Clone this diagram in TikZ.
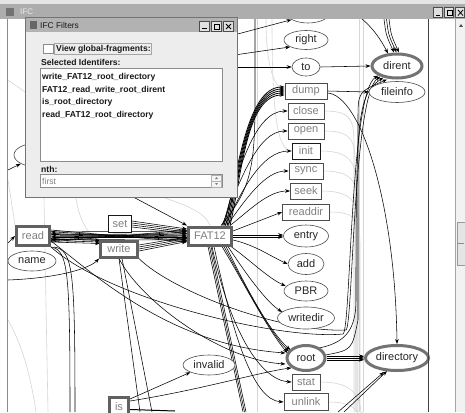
\documentclass[tikz,border=0pt]{standalone}
\usepackage{fontspec}
\setmainfont{Liberation Sans}
\usetikzlibrary{calc,shapes.geometric,arrows.meta}
\pgfdeclarelayer{edges}
\pgfdeclarelayer{front}
\pgfsetlayers{edges,main,front}
\tikzset{
	lbl/.style={font=\fontsize{11}{13}\selectfont},
	oval/.style={lbl, ellipse, draw=black!70, line width=0.6pt, fill=white, inner sep=0pt, text=black!85},
	bigoval/.style={oval, draw=black!55, line width=3pt},
	fnbox/.style={lbl, rectangle, draw=black!70, line width=0.8pt, fill=white, inner sep=0pt, text=black!50},
	bigbox/.style={fnbox, draw=black!62, line width=3pt},
	arr/.style={draw=black, line width=0.55pt, -{Stealth[length=5pt,width=3.6pt]}},
	plain/.style={draw=black, line width=0.55pt},
	faint/.style={draw=black!16, line width=0.6pt},
	dlg/.style={font=\fontsize{8.6}{10}\selectfont\bfseries, text=black!90, inner sep=0pt, anchor=west},
	winbtn/.style={draw=black!70, fill=black!12, line width=0.5pt},
}

\begin{document}
\begin{tikzpicture}[x=1pt,y=-1pt]
			%%%%% START %%%%%
			\useasboundingbox (0,0) rectangle (465,412);
			
			% nodes of the graph
			\node[oval, minimum width=46pt, minimum height=24pt] (topell) at (308,11) {};
			\node[oval, minimum width=44pt, minimum height=19pt] (right) at (306,40) {right};
			\node[oval, minimum width=28pt, minimum height=18pt] (to) at (306,67) {to};
			\node[bigoval, minimum width=50pt, minimum height=24pt] (dirent) at (397,66) {dirent};
			\node[oval, minimum width=56pt, minimum height=21pt] (fileinfo) at (397,92) {fileinfo};
			\node[fnbox, minimum width=42pt, minimum height=16pt] (dump) at (306,91) {dump};
			\node[fnbox, minimum width=36pt, minimum height=16pt] (close) at (306,111) {close};
			\node[fnbox, minimum width=36pt, minimum height=16pt] (open) at (306,131) {open};
			\node[fnbox, draw=black!90, minimum width=28pt, minimum height=16pt] (init) at (306,151) {init};
			\node[fnbox, minimum width=34pt, minimum height=16pt] (sync) at (306,171) {sync};
			\node[fnbox, minimum width=31pt, minimum height=16pt] (seek) at (306,191) {seek};
			\node[fnbox, minimum width=47pt, minimum height=16pt] (readdir) at (306,212) {readdir};
			\node[oval, minimum width=45pt, minimum height=22pt] (entry) at (306,236) {entry};
			\node[oval, minimum width=36pt, minimum height=21pt] (add) at (306,264) {add};
			\node[oval, minimum width=44pt, minimum height=20pt] (PBR) at (306,291) {PBR};
			\node[oval, minimum width=57pt, minimum height=22pt] (writedir) at (306,318) {writedir};
			\node[bigoval, minimum width=38pt, minimum height=25pt] (root) at (306,358) {root};
			\node[bigoval, minimum width=63pt, minimum height=25pt] (directory) at (397,358) {directory};
			\node[fnbox, minimum width=28pt, minimum height=16pt] (stat) at (306,382) {stat};
			\node[fnbox, minimum width=44pt, minimum height=17pt] (unlink) at (306,402) {unlink};
			
			\node[oval, minimum width=48pt, minimum height=24pt] (leftell) at (38,155) {};
			\node[bigbox, minimum width=33pt, minimum height=19pt] (read) at (33,236) {read};
			\node[oval, minimum width=48pt, minimum height=20pt] (name) at (32,261) {name};
			\node[fnbox, draw=black!90, minimum width=23pt, minimum height=17pt] (set) at (120,224) {set};
			\node[bigbox, minimum width=37pt, minimum height=16pt] (write) at (119,249) {write};
			\node[bigbox, minimum width=43pt, minimum height=18pt] (FAT12) at (210,236) {FAT12};
			\node[oval, minimum width=52pt, minimum height=20pt] (invalid) at (209,365) {invalid};
			\node[bigbox, minimum width=19pt, minimum height=18pt] (is) at (119,406.5) {is};
			
			\begin{pgfonlayer}{edges}
			\fill[white] (0,0) rectangle (465,412);
			\begin{scope}
			\clip (8,19) rectangle (428,412);
			
			% greyed out connectors
			\foreach \b/\y/\d in {close/111/0, open/131/1.2, init/151/2.4, sync/171/3.6, seek/191/4.8, readdir/212/6, stat/382/7.2, unlink/402/8.4}
				\draw[faint] (\b.east) .. controls +(28,0) and +(0,-25) .. (354+\d,\y+35) -- (354+\d,412);
			\draw[faint] (359,19) -- (359,412);
			\draw[faint] (363,19) -- (363,412);
			\draw[faint] (257,19) -- (257,412);
			\draw[faint] (266,19) .. controls (266,60) and (272,86) .. (dump.west);
			\draw[faint] (272,19) .. controls (272,120) and (278,150) .. (init.west);
			\draw[faint] (44,198) -- (48,412);
			\draw[faint] (76,198) .. controls (80,225) and (92,238) .. (write.north west);
			\draw[faint] (165,198) .. controls (185,205) and (205,212) .. (FAT12.north);
			\draw[faint] (8,320) .. controls (25,350) and (32,385) .. (36,412);
			\draw[faint] (8,180) -- (read.north west);
			\draw[faint] (8,80) -- (25,92);
			
			% read, set, write and FAT12
			\foreach \k in {0,...,7}
				\draw[arr] ($(read.east)+(0,-6+\k*1.7)$) -- ($(FAT12.west)+(0,6-\k*1.7)$);
			\foreach \k in {0,...,3}
				\draw[arr] ($(FAT12.west)+(0,-5+\k*3)$) -- ($(read.east)+(0,-4+\k*2.5)$);
			\foreach \k in {0,...,3}
				\draw[arr] ($(set.east)+(0,-3+\k*2)$) -- ($(FAT12.west)+(0,-7+\k*1.5)$);
			\foreach \k in {0,...,3}
				\draw[arr] ($(write.east)+(0,-4+\k*2)$) -- ($(FAT12.west)+(0,1+\k*1.5)$);
			\foreach \k in {0,1,2}
				\draw[arr] ($(read.east)+(0,3+\k*1.5)$) -- ($(write.north west)+(1,1+\k*1.5)$);
			\draw[arr] (120,190) -- (FAT12.north west);
			
			% FAT12 upwards
			\foreach \k in {0,...,4}
				\draw[arr, line width=0.8pt] ($(FAT12.north east)+(-9+\k*1.5,0)$) .. controls (238+\k,175) and (246,91-4+\k*2) .. ($(dump.west)+(0,-4+\k*2)$);
			\draw[arr] ($(FAT12.north east)+(-10,0)$) .. controls (238,170) and (255,111) .. (close.west);
			\draw[arr] ($(FAT12.north east)+(-11,0)$) .. controls (240,180) and (258,131) .. (open.west);
			\draw[arr] ($(FAT12.north east)+(-8,0)$) .. controls (242,190) and (262,151) .. (init.west);
			\draw[arr] ($(FAT12.north east)+(-6,0)$) .. controls (245,200) and (265,171) .. (sync.west);
			\draw[arr] ($(FAT12.north east)+(-3,0)$) .. controls (250,210) and (268,191) .. (seek.west);
			\draw[plain] ($(FAT12.north east)+(-12,0)$) .. controls (250,190) and (255,170) .. (255,100) -- (255,19);
			
			% FAT12 to the right and down
			\draw[arr] ($(FAT12.east)+(0,-5)$) -- (readdir.west);
			\draw[arr] ($(FAT12.east)+(0,-1)$) -- ($(entry.west)+(0,-1)$);
			\draw[arr] ($(FAT12.east)+(0,1)$) -- ($(entry.west)+(0,1)$);
			\draw[arr] ($(FAT12.east)+(0,4)$) .. controls (255,245) and (270,256) .. (add.west);
			\draw[arr] ($(FAT12.south east)+(-2,0)$) .. controls (250,260) and (268,278) .. ($(PBR.west)+(2,-5)$);
			\draw[arr] ($(FAT12.south east)+(-5,0)$) .. controls (250,280) and (268,303) .. ($(writedir.west)+(5,-6)$);
			\foreach \k in {0,1,2}
				\draw[arr] ($(FAT12.south east)+(-7-\k*2,0)$) .. controls (245,285) and (268,330) .. ($(root.north west)+(-1-\k*1.5,2+\k*1.5)$);
			\draw[arr] ($(FAT12.south)+(2,0)$) .. controls (230,330) and (260,380) .. (stat.west);
			\draw[arr] ($(FAT12.south)+(4,0)$) .. controls (235,345) and (255,400) .. (unlink.west);
			\foreach \k in {0,1,2}
				\draw[plain] ($(FAT12.south)+(-2+\k*1.5,0)$) -- (243+\k*1.5,412);
			
			% top of the canvas
			\draw[arr] (200,44) -- (topell.south west);
			\draw[arr] (200,60) -- (right.south west);
			\draw[arr] (200,67) -- (to.west);
			\draw[arr] (to.east) -- (dirent.west);
			\draw[arr] (362,19) .. controls (375,30) and (382,42) .. ($(dirent.north)+(-9,1)$);
			\foreach \k in {0,1,2}
				\draw[arr] (384+\k*2.5,19) .. controls (386+\k*2.5,35) .. ($(dirent.north)+(-3+\k*2.5,0)$);
			\draw[arr] (dump.east) -- (fileinfo.west);
			\draw[arr] ($(dump.east)+(0,2)$) .. controls (360,95) and (395,200) .. (directory.north);
			
			% into dirent from below
			\draw[arr] (read.south east) .. controls (110,300) and (280,340) .. (343,334) .. controls (351,330) and (350,92) .. (dirent.south west);
			\draw[arr] (write.south east) .. controls (170,290) and (280,333) .. (346,330) .. controls (353,326) and (353,95) .. ($(dirent.south west)+(2,1)$);
			\draw[arr] ($(root.north east)+(-2,0)$) .. controls (345,343) and (356,330) .. (356,300) .. controls (356,120) and (357,95) .. ($(dirent.south west)+(5,2)$);
			\draw[arr] ($(root.east)+(-1,-3)$) .. controls (352,350) .. (358,320) -- (358,120) .. controls (358,92) .. ($(dirent.south)+(-10,0)$);
			
			% root and directory
			\foreach \k in {-1.8,0,1.8}
				\draw[arr] ($(root.east)+(0,\k)$) -- ($(directory.west)+(0,\k)$);
			\draw[arr] (338,412) -- ($(directory.south)+(-13,0)$);
			\draw[arr] (344,412) -- ($(directory.south)+(-10,-1)$);
			
			% read and write downwards
			\draw[arr] ($(read.east)+(0,5)$) .. controls (95,275) and (170,345) .. ($(root.west)+(0,-5)$);
			\draw[arr] (write.south) .. controls (140,300) and (220,360) .. ($(root.west)+(0,6)$);
			\draw[plain] (read.south east) .. controls (68,250) and (70,270) .. (70,412);
			\draw[plain] ($(read.south east)+(3,0)$) .. controls (73,250) and (75,270) .. (75,412);
			\draw[plain] (write.south) -- (140,412);
			\draw[plain] ($(write.south)+(3,0)$) -- (152,412);
			
			% is
			\draw[arr] ($(is.north east)+(0,3)$) -- (invalid.south west);
			\draw[arr] ($(is.north east)+(0,5)$) .. controls (200,390) and (260,372) .. (root.south west);
			\draw[plain, line width=1pt] ($(is.east)+(0,3)$) -- (175,411);
			
			% left border
			\draw[arr] (8,243) -- (read.west);
			\draw[arr] (8,170) -- (leftell.south west);
			\draw[arr] (8,280) .. controls (60,278) and (90,268) .. (write.south west);
			\end{scope}
			\end{pgfonlayer}
			
			\begin{pgfonlayer}{front}
			% window frame
			\fill[black!10] (0,0) rectangle (465,4);
			\fill[black!32] (0,4) rectangle (465,19);
			\fill[black!55] (6,8) rectangle (14,16);
			\node[font=\fontsize{8}{9}\selectfont, text=black!8, anchor=west, inner sep=0pt] (wintitle) at (20,12) {IFC};
			\foreach \i in {0,1,2}
				\draw[winbtn] (433.5+\i*11,7.5) rectangle (442.5+\i*11,17.5);
			\draw[line width=1pt] (436,15.5) -- (440,15.5);
			\draw[line width=0.6pt] (447,10) rectangle (452,15.5);
			\draw[line width=0.8pt] (458,10) -- (463,15.5) (458,15.5) -- (463,10);
			\draw[black!45] (7.5,19) -- (7.5,412);
			\draw[black!75] (428.5,19) -- (428.5,412);
			\draw[black!35] (455.5,19) -- (455.5,412);
			\fill[black!5] (456,19) rectangle (465,412);
			\fill[black!70] (459,27) -- (463,27) -- (461,24) -- cycle;
			\draw[black!40, fill=black!10] (457.5,222.5) rectangle (465,265.5);
			\draw[black!45] (458,243.5) -- (464,243.5);
			
			% dialog
			\draw[black!55, fill=black!7] (25.5,17.5) rectangle (237.5,197.5);
			\fill[black!30] (26,18) rectangle (237,32);
			\fill[black!60] (30,21) rectangle (37,29);
			\node[font=\fontsize{8.4}{9}\selectfont, text=black!90, anchor=west, inner sep=0pt] (dlgtitle) at (40,25.5) {IFC Filters};
			\foreach \i in {0,1,2}
				\draw[winbtn] (199.5+\i*12,21.5) rectangle (209.5+\i*12,31);
			\draw[line width=1pt] (202,28.5) -- (207,28.5);
			\draw[line width=0.6pt] (214,24) rectangle (219,29);
			\draw[line width=0.8pt] (226,24) -- (231,29) (226,29) -- (231,24);
			\draw[black!45, fill=white] (43.5,44.5) rectangle (53,53.5);
			\draw[black!35] (54.5,43.5) rectangle (151,54.5);
			\node[dlg] (viewglobal) at (56,49) {View global-fragments:};
			\node[dlg] (selected) at (41,62) {Selected Identifers:};
			\draw[black!45, fill=white] (40.5,68.5) rectangle (222,161.5);
			\node[dlg] (item1) at (42,77) {write\_FAT12\_root\_directory};
			\node[dlg] (item2) at (42,90) {FAT12\_read\_write\_root\_dirent};
			\node[dlg] (item3) at (42,102.5) {is\_root\_directory};
			\node[dlg] (item4) at (42,115) {read\_FAT12\_root\_directory};
			\node[dlg] (nth) at (41,169) {nth:};
			\draw[black!45, fill=white] (40.5,174.5) rectangle (222,187.5);
			\node[dlg, font=\fontsize{8.6}{10}\selectfont, text=black!50] (first) at (42,181) {first};
			\draw[black!30, fill=black!4] (211.5,175) rectangle (221.5,187);
			\draw[black!30] (211.5,181) -- (221.5,181);
			\fill[black!50] (215,179) -- (218,179) -- (216.5,177) -- cycle;
			\fill[black!50] (215,183) -- (218,183) -- (216.5,185) -- cycle;
			\end{pgfonlayer}
			
			%%%%% END %%%%%
\end{tikzpicture}
\end{document}
